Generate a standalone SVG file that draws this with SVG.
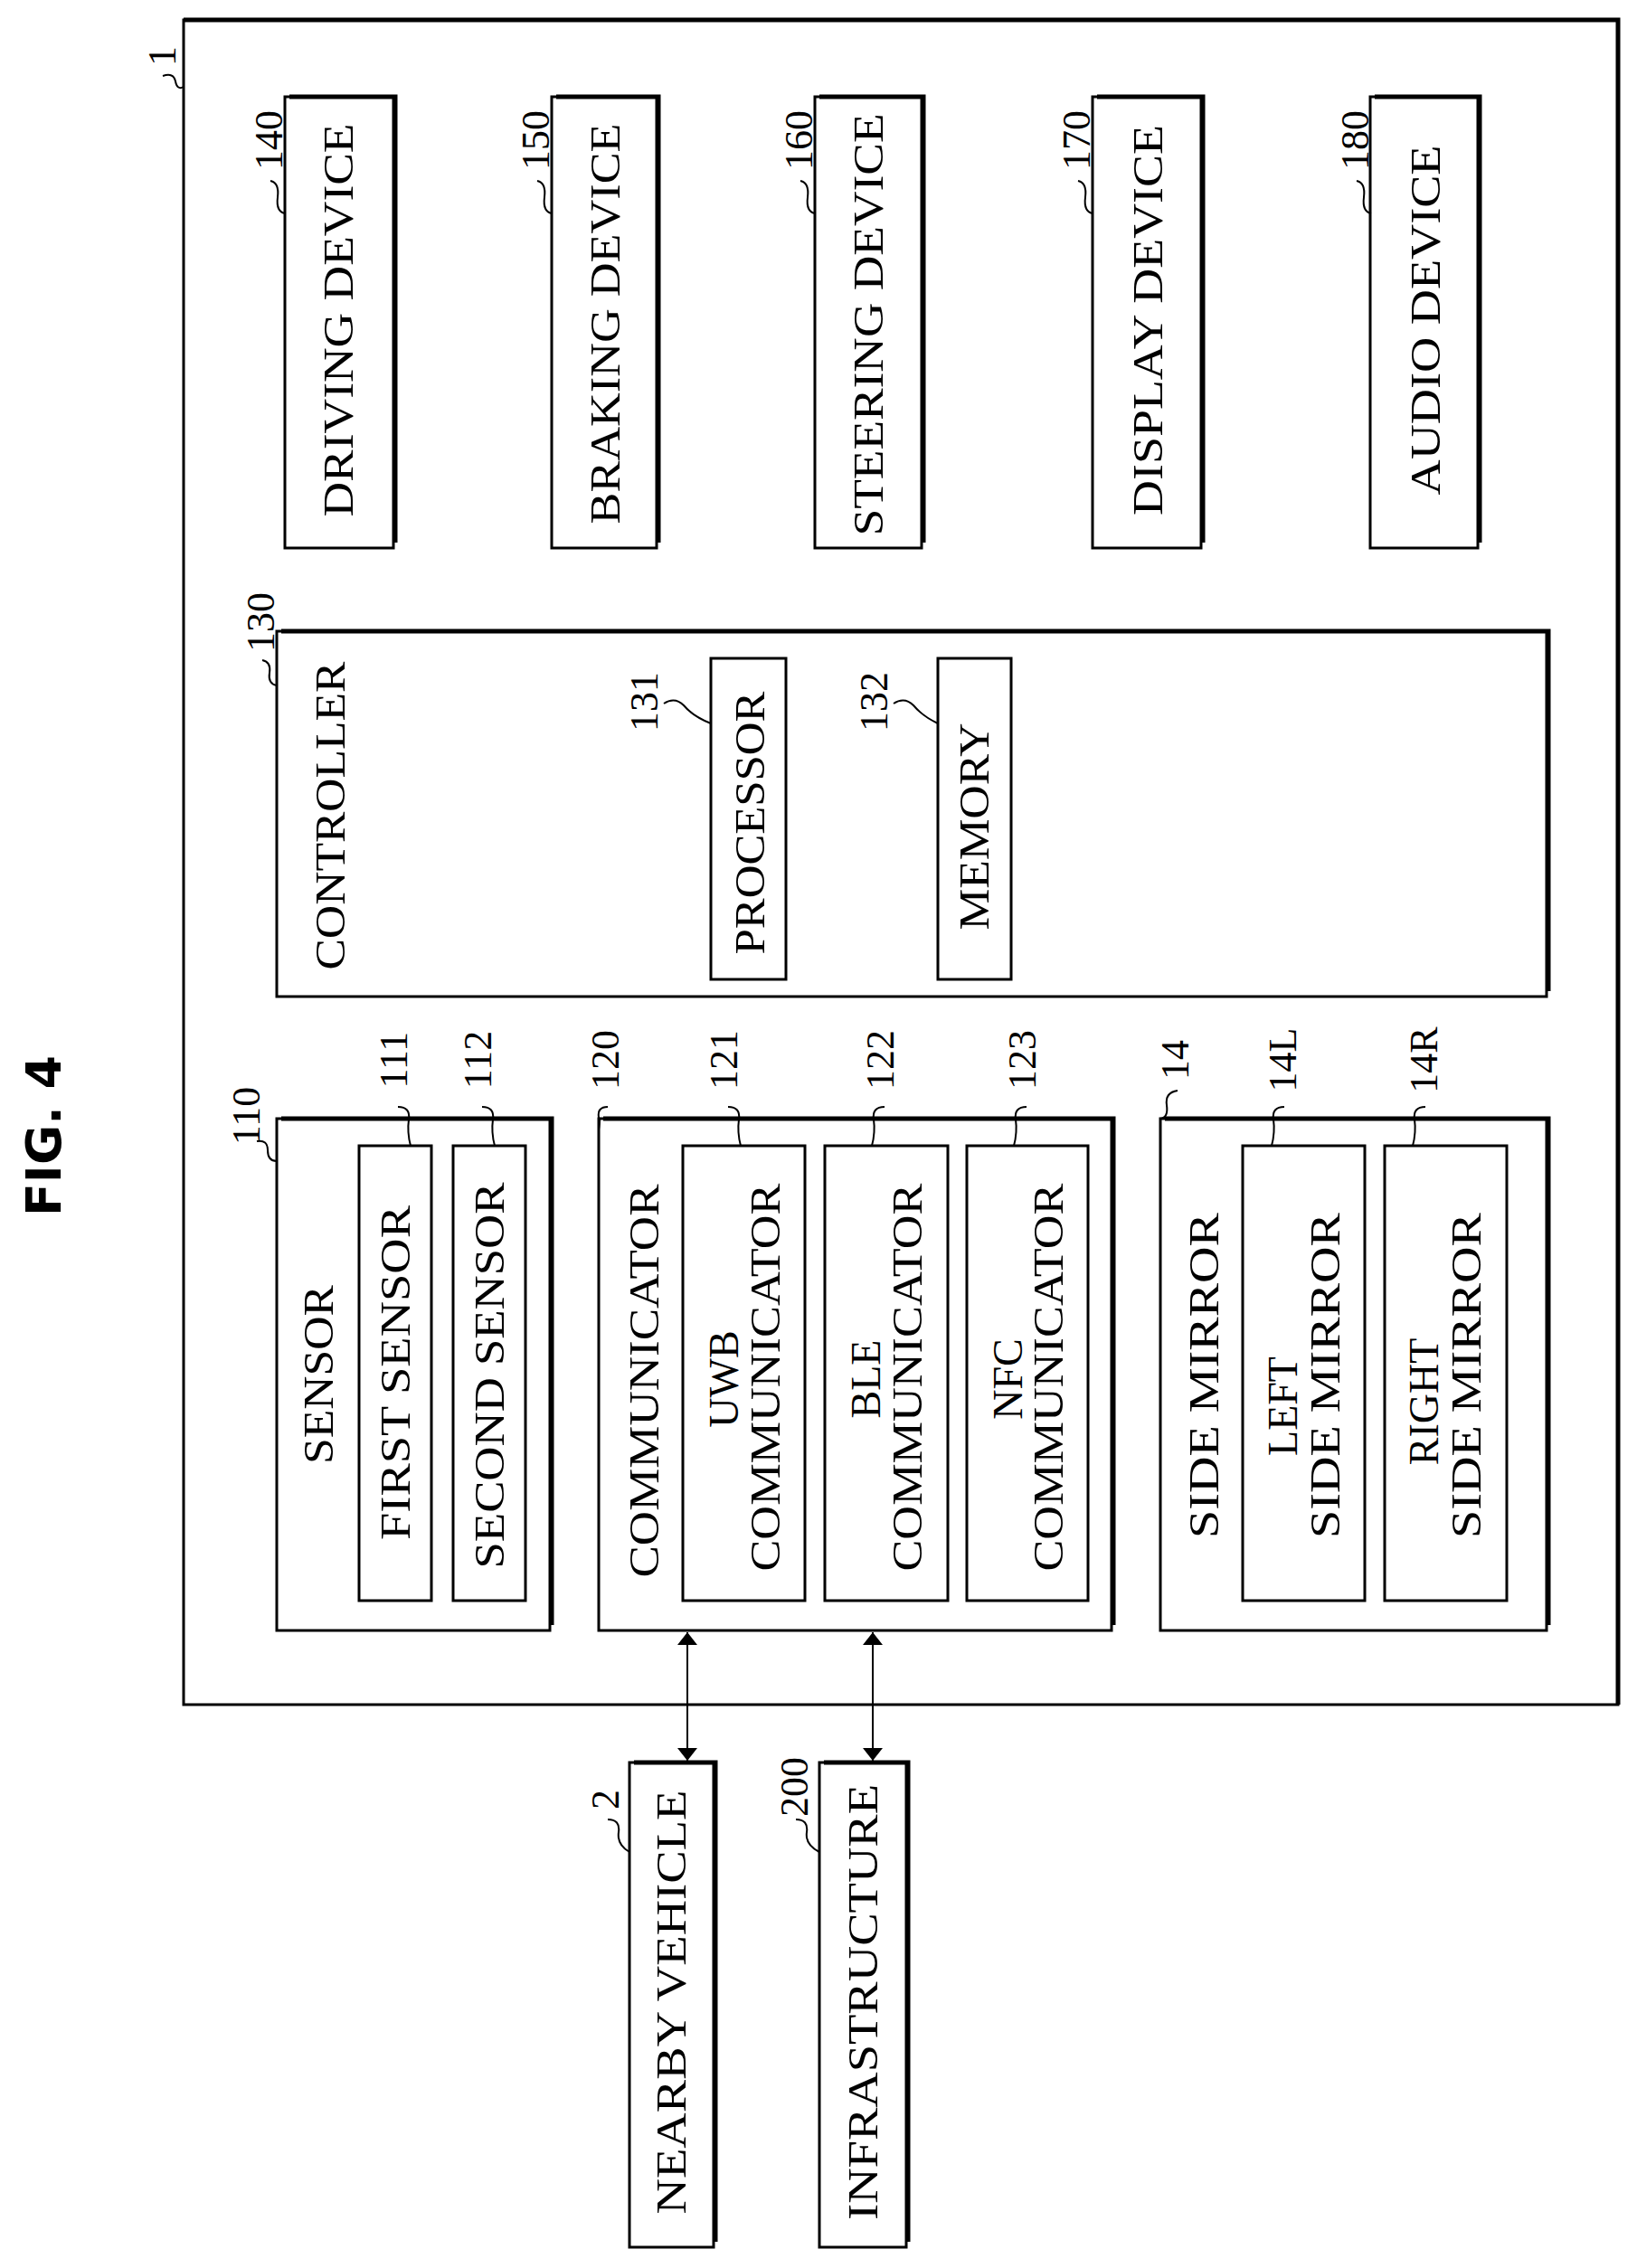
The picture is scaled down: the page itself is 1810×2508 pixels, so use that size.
<svg xmlns="http://www.w3.org/2000/svg" width="1810" height="2508" viewBox="0 0 1810 2508">
<style>
.b{fill:#fff;stroke:#000;stroke-width:3}
.s{fill:none;stroke:#000;stroke-width:5}
.t{font-family:"Liberation Serif",serif;font-size:46px;text-anchor:middle;dominant-baseline:central}
.n{font-family:"Liberation Serif",serif;font-size:44px;text-anchor:middle;dominant-baseline:central}
.l{fill:none;stroke:#000;stroke-width:2}
</style>
<defs>
<marker id="a" viewBox="0 0 10 10" refX="10" refY="5" markerWidth="14" markerHeight="22" orient="auto-start-reverse" markerUnits="userSpaceOnUse" preserveAspectRatio="none"><path d="M0,0 L10,5 L0,10 Z" fill="#000"/></marker>
</defs>
<rect width="1810" height="2508" fill="#fff"/>
<text x="48" y="1256" transform="rotate(-90 48 1256)" font-family="DejaVu Sans,sans-serif" font-weight="bold" font-size="54" text-anchor="middle" dominant-baseline="central">FIG. 4</text>

<g id="n1">
<rect class="b" x="203" y="22" width="1586" height="1863"/>
<path class="s" d="M203,22 H1789 V1885"/>
<text class="n" x="179" y="62" transform="rotate(-90 179 62)">1</text>
<path class="l" d="M180,84 q12,-4 14,6 q2,10 9,6"/>
</g>

<g id="n140"><rect class="b" x="315" y="107" width="120" height="499"/><path class="s" d="M320,107 H437 V600"/>
<text class="t" x="374" y="354" transform="rotate(-90 374 354)" textLength="435" lengthAdjust="spacingAndGlyphs">DRIVING DEVICE</text>
<text class="n" x="297" y="155" transform="rotate(-90 297 155)">140</text><path class="l" d="M299,200 q10,2 8,18 q-2,16 8,18"/></g>
<g id="n150"><rect class="b" x="610" y="107" width="116" height="499"/><path class="s" d="M615,107 H728 V600"/>
<text class="t" x="669" y="358" transform="rotate(-90 669 358)" textLength="443" lengthAdjust="spacingAndGlyphs">BRAKING DEVICE</text>
<text class="n" x="592" y="155" transform="rotate(-90 592 155)">150</text><path class="l" d="M594,200 q10,2 8,18 q-2,16 8,18"/></g>
<g id="n160"><rect class="b" x="901" y="107" width="118" height="499"/><path class="s" d="M906,107 H1021 V600"/>
<text class="t" x="960" y="359" transform="rotate(-90 960 359)" textLength="467" lengthAdjust="spacingAndGlyphs">STEERING DEVICE</text>
<text class="n" x="883" y="155" transform="rotate(-90 883 155)">160</text><path class="l" d="M885,200 q10,2 8,18 q-2,16 8,18"/></g>
<g id="n170"><rect class="b" x="1208" y="107" width="120" height="499"/><path class="s" d="M1213,107 H1330 V600"/>
<text class="t" x="1269" y="354" transform="rotate(-90 1269 354)" textLength="432" lengthAdjust="spacingAndGlyphs">DISPLAY DEVICE</text>
<text class="n" x="1190" y="155" transform="rotate(-90 1190 155)">170</text><path class="l" d="M1192,200 q10,2 8,18 q-2,16 8,18"/></g>
<g id="n180"><rect class="b" x="1515" y="107" width="119" height="499"/><path class="s" d="M1520,107 H1636 V600"/>
<text class="t" x="1576" y="354" transform="rotate(-90 1576 354)" textLength="387" lengthAdjust="spacingAndGlyphs">AUDIO DEVICE</text>
<text class="n" x="1498" y="155" transform="rotate(-90 1498 155)">180</text><path class="l" d="M1500,200 q10,2 8,18 q-2,16 8,18"/></g>

<g id="n130"><rect class="b" x="306" y="698" width="1404" height="404"/><path class="s" d="M311,698 H1712 V1096"/>
<text class="t" x="365" y="902" transform="rotate(-90 365 902)" textLength="341" lengthAdjust="spacingAndGlyphs">CONTROLLER</text>
<text class="n" x="288" y="688" transform="rotate(-90 288 688)">130</text><path class="l" d="M290,730 q10,2 8,14 q-2,12 8,14"/></g>
<g id="n131"><rect class="b" x="786" y="728" width="83" height="355"/>
<text class="t" x="829" y="910" transform="rotate(-90 829 910)" textLength="291" lengthAdjust="spacingAndGlyphs">PROCESSOR</text>
<text class="n" x="712" y="776" transform="rotate(-90 712 776)">131</text><path class="l" d="M734,778 q12,-8 22,2 q10,12 30,20"/></g>
<g id="n132"><rect class="b" x="1037" y="728" width="81" height="355"/>
<text class="t" x="1077" y="914" transform="rotate(-90 1077 914)" textLength="229" lengthAdjust="spacingAndGlyphs">MEMORY</text>
<text class="n" x="966" y="776" transform="rotate(-90 966 776)">132</text><path class="l" d="M988,778 q12,-8 22,2 q10,12 27,20"/></g>

<g id="n110"><rect class="b" x="306" y="1237" width="302" height="566"/><path class="s" d="M311,1237 H610 V1797"/>
<text class="t" x="352" y="1520" transform="rotate(-90 352 1520)" textLength="198" lengthAdjust="spacingAndGlyphs">SENSOR</text>
<text class="n" x="272" y="1234" transform="rotate(-90 272 1234)">110</text><path class="l" d="M284,1262 q12,-2 12,10 q0,12 10,12"/></g>
<g id="n111"><rect class="b" x="397" y="1267" width="80" height="503"/>
<text class="t" x="437" y="1518" transform="rotate(-90 437 1518)" textLength="370" lengthAdjust="spacingAndGlyphs">FIRST SENSOR</text>
<text class="n" x="435" y="1172" transform="rotate(-90 435 1172)">111</text><path class="l" d="M440,1224 q14,0 12,14 q-2,14 2,29"/></g>
<g id="n112"><rect class="b" x="501" y="1267" width="80" height="503"/>
<text class="t" x="541" y="1521" transform="rotate(-90 541 1521)" textLength="427" lengthAdjust="spacingAndGlyphs">SECOND SENSOR</text>
<text class="n" x="528" y="1172" transform="rotate(-90 528 1172)">112</text><path class="l" d="M533,1224 q14,0 12,14 q-2,14 2,29"/></g>

<g id="n120"><rect class="b" x="662" y="1237" width="567" height="566"/><path class="s" d="M667,1237 H1231 V1797"/>
<text class="t" x="712" y="1527" transform="rotate(-90 712 1527)" textLength="435" lengthAdjust="spacingAndGlyphs">COMMUNICATOR</text>
<text class="n" x="669" y="1172" transform="rotate(-90 669 1172)">120</text><path class="l" d="M672,1224 q-12,0 -10,12 q2,0 0,13"/></g>
<g id="n121"><rect class="b" x="755" y="1267" width="135" height="503"/>
<text class="t" x="800" y="1525" transform="rotate(-90 800 1525)">UWB</text>
<text class="t" x="846" y="1523" transform="rotate(-90 846 1523)" textLength="429" lengthAdjust="spacingAndGlyphs">COMMUNICATOR</text>
<text class="n" x="800" y="1172" transform="rotate(-90 800 1172)">121</text><path class="l" d="M805,1224 q14,0 12,14 q-2,14 2,29"/></g>
<g id="n122"><rect class="b" x="912" y="1267" width="136" height="503"/>
<text class="t" x="957" y="1525" transform="rotate(-90 957 1525)">BLE</text>
<text class="t" x="1003" y="1523" transform="rotate(-90 1003 1523)" textLength="429" lengthAdjust="spacingAndGlyphs">COMMUNICATOR</text>
<text class="n" x="973" y="1172" transform="rotate(-90 973 1172)">122</text><path class="l" d="M978,1224 q-14,0 -12,14 q2,14 -2,29"/></g>
<g id="n123"><rect class="b" x="1069" y="1267" width="134" height="503"/>
<text class="t" x="1114" y="1525" transform="rotate(-90 1114 1525)">NFC</text>
<text class="t" x="1159" y="1523" transform="rotate(-90 1159 1523)" textLength="429" lengthAdjust="spacingAndGlyphs">COMMUNICATOR</text>
<text class="n" x="1130" y="1172" transform="rotate(-90 1130 1172)">123</text><path class="l" d="M1135,1224 q-14,0 -12,14 q2,14 -2,29"/></g>

<g id="n14"><rect class="b" x="1283" y="1237" width="427" height="566"/><path class="s" d="M1288,1237 H1712 V1797"/>
<text class="t" x="1331" y="1521" transform="rotate(-90 1331 1521)" textLength="360" lengthAdjust="spacingAndGlyphs">SIDE MIRROR</text>
<text class="n" x="1299" y="1172" transform="rotate(-90 1299 1172)">14</text><path class="l" d="M1302,1206 q-14,2 -12,16 q2,14 -7,15"/></g>
<g id="n14L"><rect class="b" x="1374" y="1267" width="135" height="503"/>
<text class="t" x="1418" y="1555" transform="rotate(-90 1418 1555)">LEFT</text>
<text class="t" x="1465" y="1521" transform="rotate(-90 1465 1521)" textLength="360" lengthAdjust="spacingAndGlyphs">SIDE MIRROR</text>
<text class="n" x="1418" y="1172" transform="rotate(-90 1418 1172)">14L</text><path class="l" d="M1420,1224 q-14,0 -12,14 q2,14 -2,29"/></g>
<g id="n14R"><rect class="b" x="1531" y="1267" width="135" height="503"/>
<text class="t" x="1574" y="1550" transform="rotate(-90 1574 1550)">RIGHT</text>
<text class="t" x="1621" y="1521" transform="rotate(-90 1621 1521)" textLength="360" lengthAdjust="spacingAndGlyphs">SIDE MIRROR</text>
<text class="n" x="1574" y="1172" transform="rotate(-90 1574 1172)">14R</text><path class="l" d="M1576,1224 q-14,0 -12,14 q2,14 -2,29"/></g>

<g id="n2"><rect class="b" x="696" y="1949" width="93" height="536"/><path class="s" d="M701,1949 H791 V2479"/>
<text class="t" x="742" y="2214" transform="rotate(-90 742 2214)" textLength="469" lengthAdjust="spacingAndGlyphs">NEARBY VEHICLE</text>
<text class="n" x="669" y="1990" transform="rotate(-90 669 1990)">2</text><path class="l" d="M672,2012 q14,0 12,14 q-2,14 12,22"/></g>
<g id="n200"><rect class="b" x="906" y="1949" width="96" height="536"/><path class="s" d="M911,1949 H1004 V2479"/>
<text class="t" x="954" y="2214" transform="rotate(-90 954 2214)" textLength="482" lengthAdjust="spacingAndGlyphs">INFRASTRUCTURE</text>
<text class="n" x="878" y="1976" transform="rotate(-90 878 1976)">200</text><path class="l" d="M880,2012 q14,0 12,14 q-2,14 14,22"/></g>

<g id="connectors">
<line x1="760" y1="1805" x2="760" y2="1947" stroke="#000" stroke-width="2" marker-start="url(#a)" marker-end="url(#a)"/>
<line x1="965" y1="1805" x2="965" y2="1947" stroke="#000" stroke-width="2" marker-start="url(#a)" marker-end="url(#a)"/>
</g>
</svg>
